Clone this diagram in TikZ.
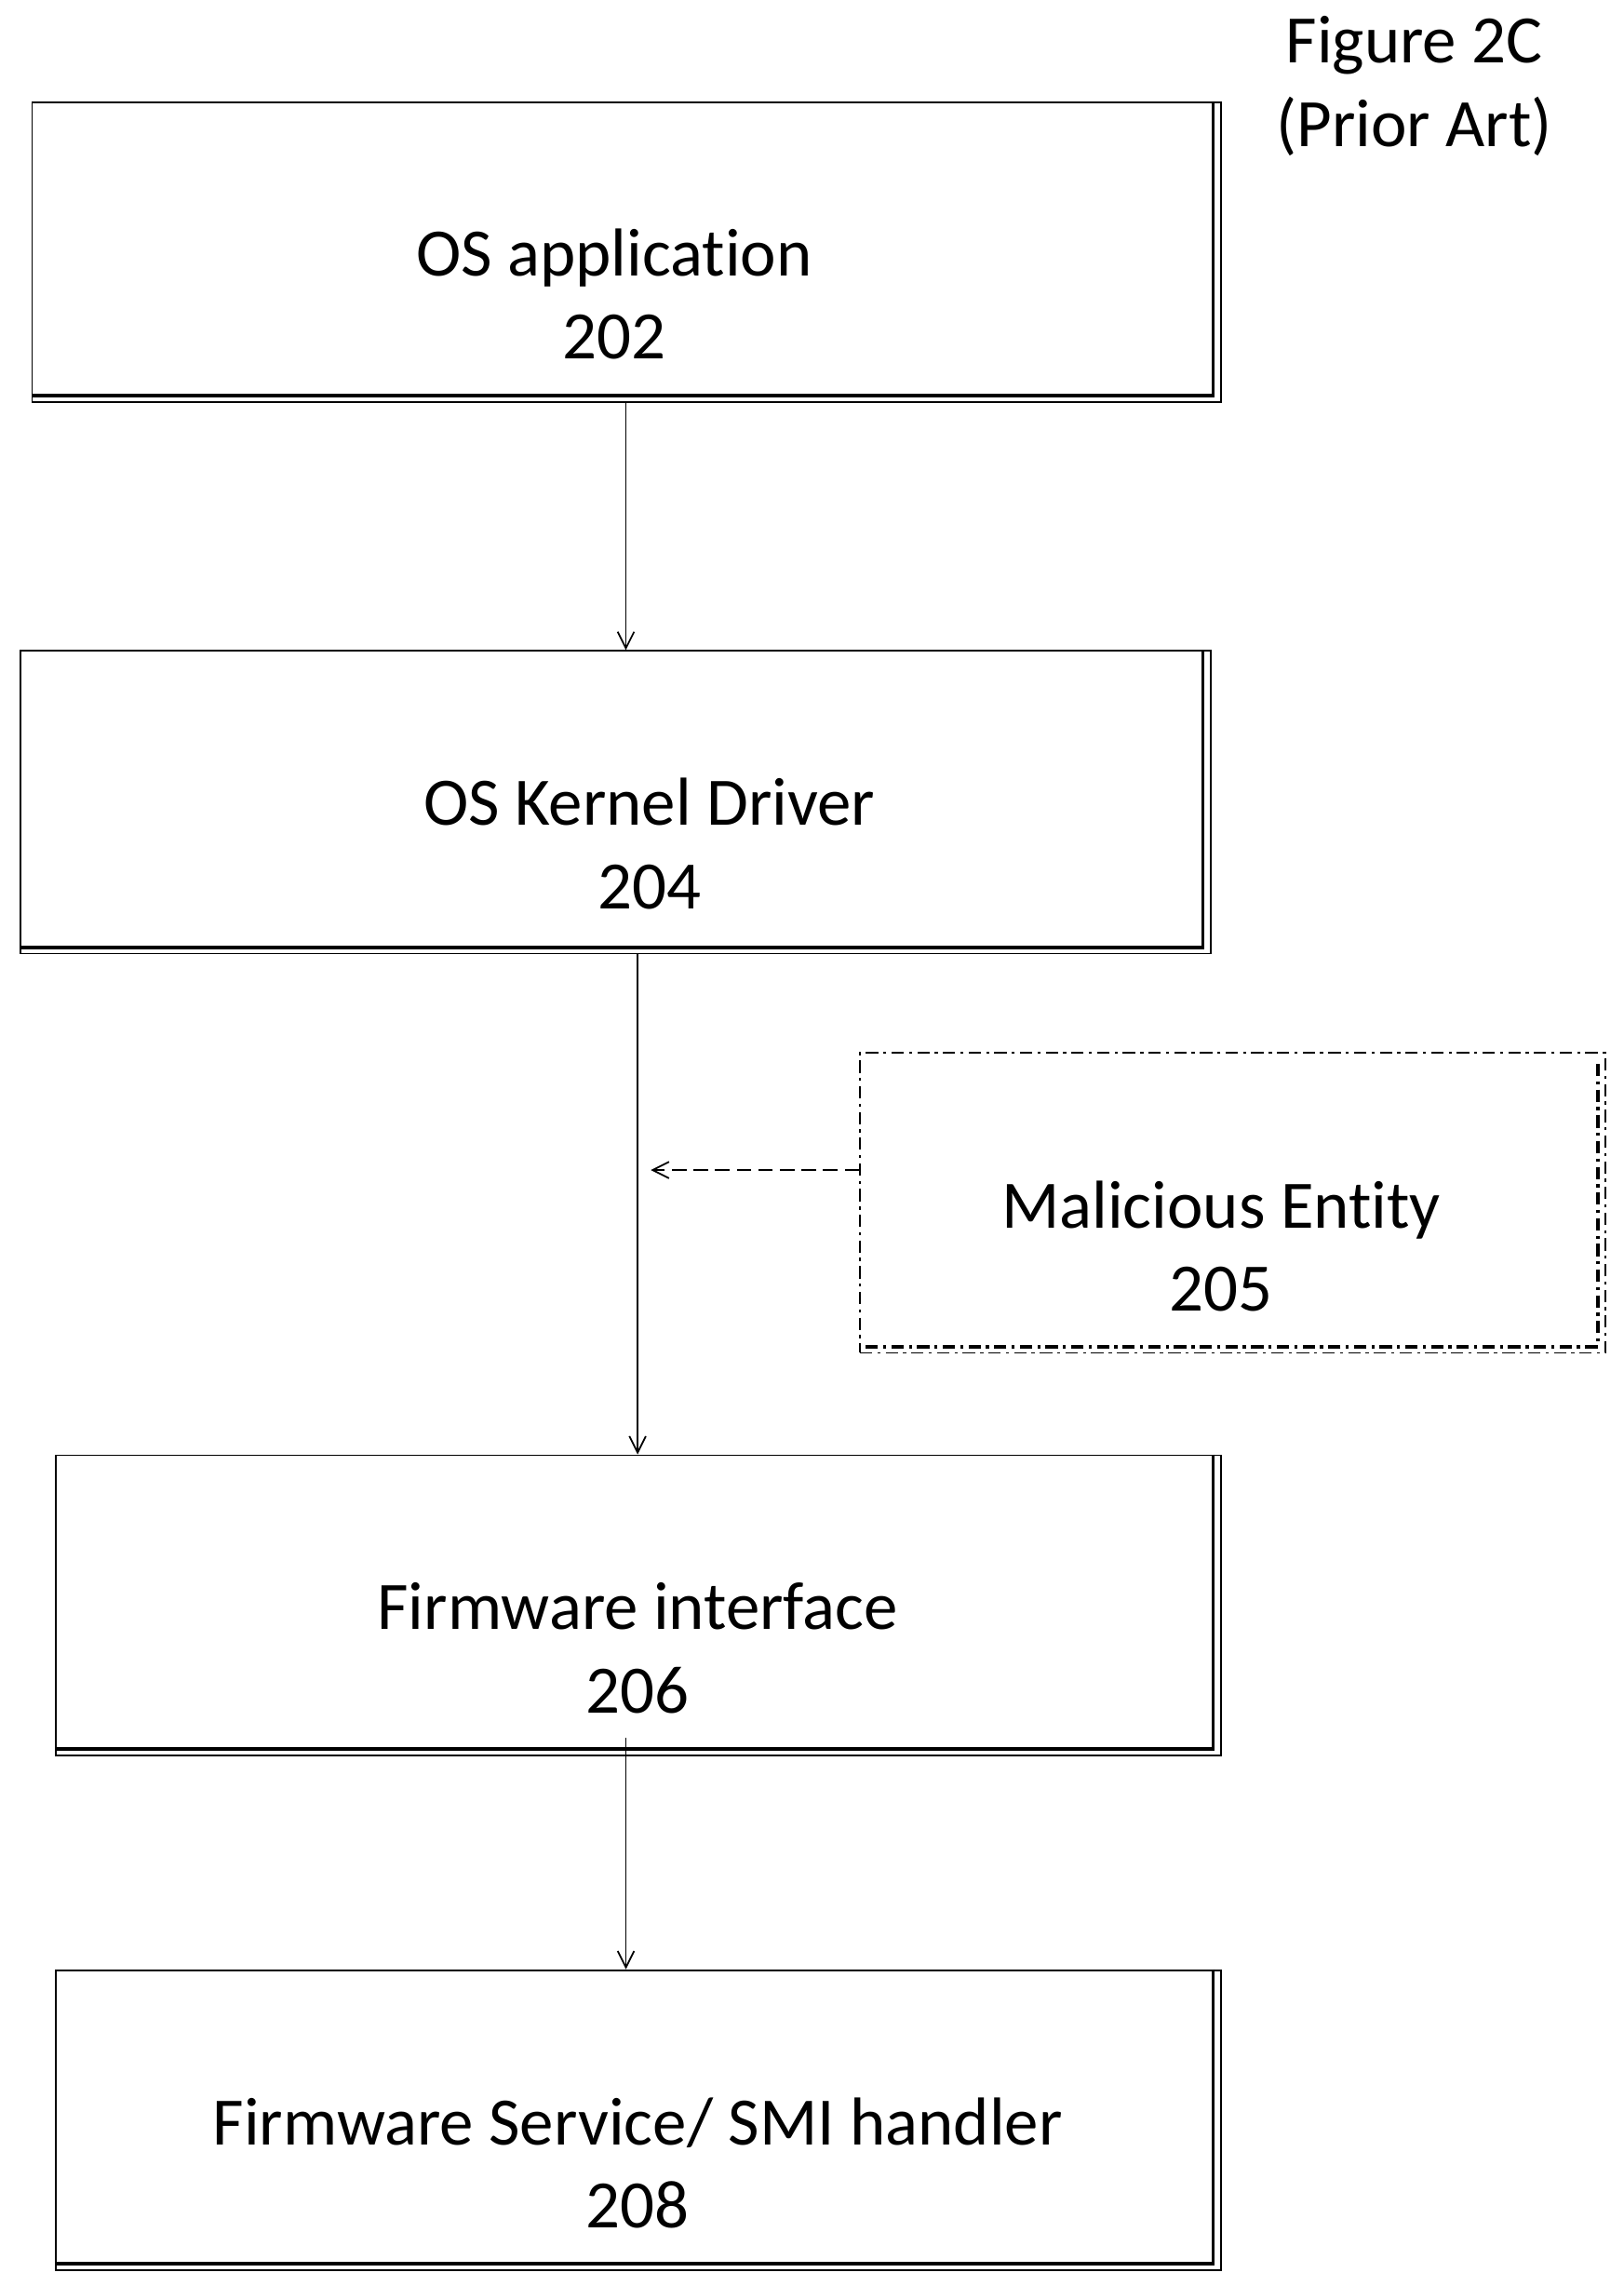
\documentclass[tikz,border=0pt]{standalone}
\usepackage{fontspec}
\setmainfont[Ligatures=NoCommon]{Carlito}
\usetikzlibrary{positioning,calc,arrows.meta}
\begin{document}
\begin{tikzpicture}[x=0.05cm,y=-0.05cm,
      block/.style={rectangle, draw, line width=1.6pt, inner sep=0pt},
      shade/.style={line width=3.6pt},
      dd/.style={dash pattern=on 12pt off 5pt on 3pt off 5pt},
      txt/.style={align=center, font=\fontsize{66}{81}\selectfont},
      arrow/.style={-{Straight Barb[length=16pt,width=16pt]}, line width=1.6pt}
    ]
      \useasboundingbox (0,0) rectangle (1110,1563);
      % Boxes
      \node[block, minimum width=40.65cm, minimum height=10.25cm] (app) at (428.5,172.5) {};
      \node[block, minimum width=40.7cm, minimum height=10.35cm] (drv) at (421,548.5) {};
      \node[block, dd, minimum width=25.5cm, minimum height=10.25cm] (mal) at (843,822.5) {};
      \node[block, minimum width=39.85cm, minimum height=10.25cm] (fwi) at (436.5,1097.5) {};
      \node[block, minimum width=39.85cm, minimum height=10.25cm] (smi) at (436.5,1449.5) {};

      % Shadow edges
      \foreach \b in {app,drv,fwi,smi}{
        \draw[shade] ($(\b.north east)+(-6,0)$) -- ($(\b.south east)+(-6,-5)$) -- ($(\b.south west)+(0,-5)$);
      }
      \draw[shade, dd] ($(mal.north east)+(-6,8)$) -- ($(mal.south east)+(-6,-5)$) -- ($(mal.south west)+(0,-5)$);

      % Texts
      \node[txt] at (420,201) {OS application\\202};
      \node[txt] at (444,577) {OS Kernel Driver\\204};
      \node[txt] at (835,852) {Malicious Entity\\205};
      \node[txt] at (436,1127) {Firmware interface\\206};
      \node[txt] at (436,1479) {Firmware Service/ SMI handler\\208};
      \node[txt, align=center] (fig) at (967,59) {Figure 2C\\(Prior Art)};

      % Arrows
      \coordinate (hit) at (445,800);
      \draw[arrow] (app.south -| 428,0) -- (drv.north -| 428,0);
      \draw[arrow] (drv.south -| 436,0) -- (fwi.north -| 436,0);
      \draw[arrow, dash pattern=on 14pt off 7pt] (mal.west |- hit) -- (hit);
      \draw[arrow] (428,1188) -- (smi.north -| 428,0);
    \end{tikzpicture}
\end{document}
